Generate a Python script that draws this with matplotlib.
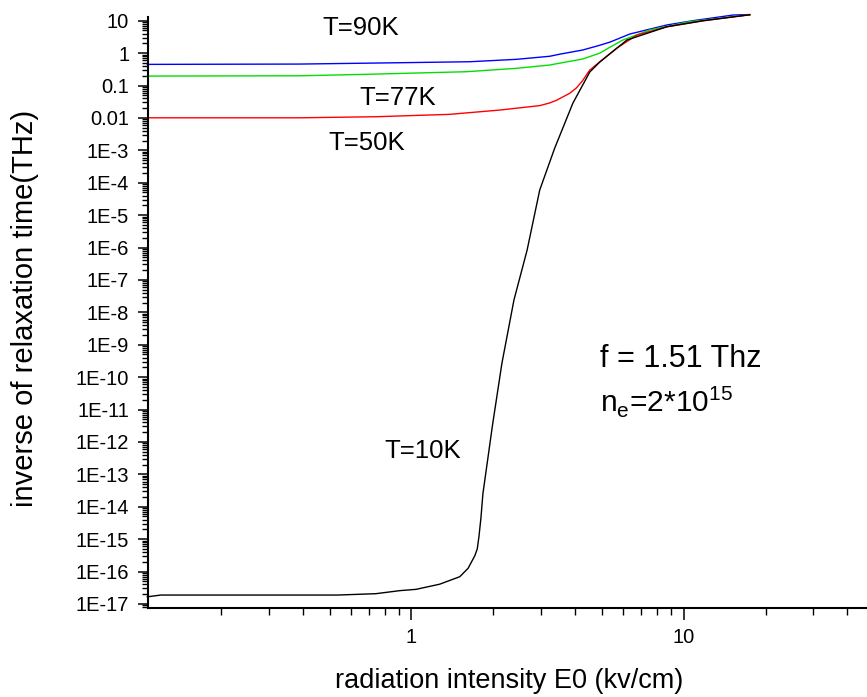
import numpy as np
import matplotlib
matplotlib.use('Agg')
import matplotlib.pyplot as plt
from matplotlib.ticker import LogLocator, FixedLocator, FixedFormatter, NullFormatter

plt.rcParams['font.family'] = ['Liberation Sans', 'DejaVu Sans']
plt.rcParams['mathtext.fontset'] = 'custom'
plt.rcParams['mathtext.rm'] = 'Liberation Sans'

# radiation intensity E0 (kV/cm) and inverse relaxation time (THz)
x_90 = [0.107, 0.389, 0.906, 1.64, 2.43, 3.22, 3.51, 4.26, 4.92, 5.37, 6.35, 8.68, 10.8, 15.2, 17.5]
y_90 = [0.45, 0.46, 0.506, 0.543, 0.644, 0.80, 0.93, 1.25, 1.75, 2.2, 3.9, 7.4, 10.0, 15.0, 15.5]

x_77 = [0.107, 0.389, 0.684, 1.59, 2.43, 3.22, 4.26, 4.92, 5.22, 5.98, 7.52, 10.5, 17.5]
y_77 = [0.196, 0.20, 0.222, 0.267, 0.34, 0.43, 0.66, 1.0, 1.34, 2.54, 5.2, 9.3, 15.3]

x_50 = [0.107, 0.389, 0.743, 1.38, 2.11, 2.96, 3.22, 3.41, 3.82, 4.04, 4.25, 4.52, 4.92, 5.69, 6.73, 8.68, 11.8, 17.5]
y_50 = [0.0101, 0.0101, 0.0109, 0.0129, 0.0175, 0.024, 0.029, 0.035, 0.058, 0.085, 0.14, 0.30, 0.54, 1.44, 3.6, 6.5, 10.0, 15.3]

x_10 = [0.107, 0.12, 0.536, 0.74, 0.906, 1.04, 1.27, 1.505, 1.615, 1.71, 1.745, 1.77, 1.80, 1.83, 1.985,
        2.15, 2.38, 2.66, 2.96, 3.36, 3.92, 4.52, 4.92, 6.19, 8.68, 11.8, 17.5]
y_10 = [1.66e-17, 1.88e-17, 1.88e-17, 2.07e-17, 2.57e-17, 2.82e-17, 4.07e-17, 6.92e-17, 1.26e-16,
        3.1e-16, 5.0e-16, 1.2e-15, 4.5e-15, 2.5e-14, 3.3e-12, 2.7e-10, 2.4e-8, 8.3e-7, 5.96e-5, 1.17e-3,
        0.0288, 0.261, 0.531, 2.54, 6.53, 10.0, 15.3]

y_ticks = [10.0 ** k for k in range(1, -18, -1)]
y_ticklabels = ['10', '1', '0.1', '0.01'] + ['1E%d' % k for k in range(-3, -18, -1)]

fig = plt.figure(figsize=(8.67, 6.97), dpi=100)
ax = fig.add_axes([0.1707, 0.1281, 0.8293, 0.8479])

ax.plot(x_90, y_90, color='#0000ff', lw=1.0, clip_on=False)
ax.plot(x_77, y_77, color='#00e000', lw=1.0, clip_on=False)
ax.plot(x_50, y_50, color='#ff0000', lw=1.0, clip_on=False)
ax.plot(x_10, y_10, color='#000000', lw=1.0, clip_on=False)

ax.set_xscale('log')
ax.set_yscale('log')
ax.set_xlim(0.1076, 47.2)
ax.set_ylim(7.64e-18, 13.3)

ax.spines['top'].set_visible(False)
ax.spines['right'].set_visible(False)
ax.spines['left'].set_linewidth(1.5)
ax.spines['bottom'].set_linewidth(1.5)

ax.yaxis.set_major_locator(FixedLocator(y_ticks))
ax.yaxis.set_major_formatter(FixedFormatter(y_ticklabels))
ax.yaxis.set_minor_locator(LogLocator(base=10, subs=np.arange(2, 10), numticks=40))
ax.yaxis.set_minor_formatter(NullFormatter())

ax.xaxis.set_major_locator(FixedLocator([1, 10]))
ax.xaxis.set_major_formatter(FixedFormatter(['1', '10']))
ax.xaxis.set_minor_locator(LogLocator(base=10, subs=np.arange(2, 10), numticks=20))
ax.xaxis.set_minor_formatter(NullFormatter())

ax.tick_params(axis='y', which='major', direction='out', length=7.5, width=1.1, labelsize=14.5, pad=6)
ax.tick_params(axis='y', which='minor', direction='out', length=4, width=1.0)
ax.tick_params(axis='x', which='major', direction='out', length=8.5, width=1.1, labelsize=14.5, pad=6)
ax.tick_params(axis='x', which='minor', direction='out', length=5, width=1.0)

fig.text(25.5 / 867, 1 - 308 / 697, 'inverse of relaxation time(THz)', rotation=90,
         ha='center', va='center', fontsize=21)
fig.text(509 / 867, 1 - 688 / 697, 'radiation intensity E0 (kv/cm)',
         ha='center', va='baseline', fontsize=19.5)

ax.text(0.472, 3.62, 'T=90K', fontsize=18.5, va='baseline')
ax.text(0.646, 0.025, 'T=77K', fontsize=18.5, va='baseline')
ax.text(0.496, 1.03e-3, 'T=50K', fontsize=18.5, va='baseline')
ax.text(0.798, 3.1e-13, 'T=10K', fontsize=18.5, va='baseline')
ax.text(4.92, 2.1e-10, 'f = 1.51 Thz', fontsize=22, va='baseline')
ax.text(4.92, 8.55e-12, r'n$_\mathregular{e}$=2*10$^{\mathregular{15}}$', fontsize=21.5, va='baseline')

fig.savefig('out.png', dpi=100)
